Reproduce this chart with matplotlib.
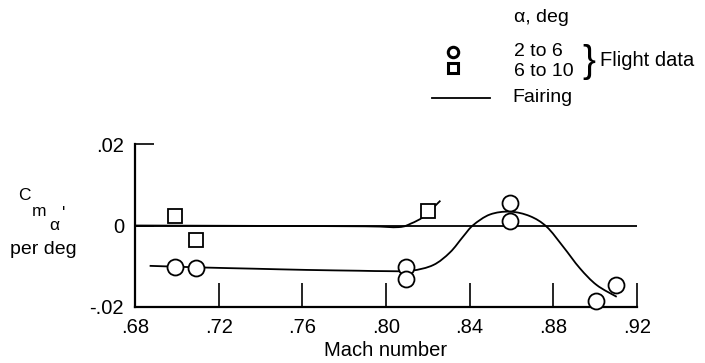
import numpy as np
import matplotlib
matplotlib.use("Agg")
import matplotlib.pyplot as plt
from matplotlib.path import Path
from matplotlib.patches import PathPatch

plt.rcParams['font.family'] = ['Liberation Sans', 'DejaVu Sans']

# Dados
mach_circ = [0.699, 0.709, 0.8095, 0.8095, 0.8593, 0.8593, 0.9002, 0.910]
cm_circ = [-0.0101, -0.0104, -0.0101, -0.0131, 0.0054, 0.0012, -0.0185, -0.0146]

mach_sq = [0.699, 0.709, 0.820]
cm_sq = [0.0023, -0.0036, 0.0036]

# Curvas de ajuste (fairing)
fair_sq_x = [0.680, 0.740, 0.790, 0.806, 0.812, 0.818, 0.826]
fair_sq_y = [0.0, -0.0001, -0.0002, -0.0004, 0.0005, 0.0022, 0.0061]

fair_circ_x = [0.687, 0.712, 0.737, 0.762, 0.787, 0.800, 0.812, 0.8226, 0.8306,
               0.8369, 0.8417, 0.8497, 0.8593, 0.8688, 0.8768, 0.8847, 0.8927,
               0.9007, 0.9103]
fair_circ_y = [-0.0099, -0.0103, -0.0106, -0.0109, -0.0111, -0.0112, -0.0111,
               -0.0097, -0.0066, -0.0027, 0.0001, 0.0027, 0.0034, 0.0023, -0.0003,
               -0.0052, -0.0105, -0.0146, -0.0175]

xticks = [0.68, 0.72, 0.76, 0.80, 0.84, 0.88, 0.92]
xtick_labels = ['.68', '.72', '.76', '.80', '.84', '.88', '.92']
yticks = [-0.02, 0.0, 0.02]
ytick_labels = ['-.02', '0', '.02']


def curva_suave(xs, ys):
    # Catmull-Rom convertido em Bezier cubica
    pts = np.column_stack([xs, ys])
    verts = [pts[0]]
    codes = [Path.MOVETO]
    n = len(pts)
    for i in range(n - 1):
        p0 = pts[i - 1] if i > 0 else pts[i]
        p1 = pts[i]
        p2 = pts[i + 1]
        p3 = pts[i + 2] if i + 2 < n else pts[i + 1]
        verts += [p1 + (p2 - p0) / 6, p2 - (p3 - p1) / 6, p2]
        codes += [Path.CURVE4] * 3
    return Path(verts, codes)


W, H = 705, 363
fig = plt.figure(figsize=(W / 100, H / 100), dpi=100)
ax = fig.add_axes([135 / W, 1 - 307 / H, (637 - 135) / W, (307 - 144) / H])

ax.axhline(0, color='black', lw=1.3, zorder=1)
for xs, ys in [(fair_sq_x, fair_sq_y), (fair_circ_x, fair_circ_y)]:
    ax.add_patch(PathPatch(curva_suave(xs, ys), fc='none', ec='black', lw=1.3, zorder=2))
ax.plot(mach_circ, cm_circ, 'o', ms=11.5, mfc='white', mec='black', mew=1.3,
        ls='none', zorder=3, clip_on=False)
ax.plot(mach_sq, cm_sq, 's', ms=9.5, mfc='white', mec='black', mew=1.3,
        ls='none', zorder=3, clip_on=False)

ax.set_xlim(0.68, 0.92)
ax.set_ylim(-0.02, 0.02)
ax.spines['top'].set_visible(False)
ax.spines['right'].set_visible(False)
ax.spines['left'].set_linewidth(1.6)
ax.spines['bottom'].set_linewidth(1.6)
ax.set_xticks(xticks)
ax.set_xticklabels(xtick_labels)
ax.set_yticks(yticks)
ax.set_yticklabels(ytick_labels)
ax.tick_params(axis='x', direction='in', length=17, width=1.2, pad=8, labelsize=14.5)
ax.tick_params(axis='y', direction='in', length=14, width=1.2, pad=8, labelsize=14.5)
ax.set_xlabel('Mach number', fontsize=14.5, labelpad=3)

# Rotulo do eixo y
fig.text(24 / W, 1 - 196 / H, 'C', fontsize=12.5, ha='center', va='center')
fig.text(39 / W, 1 - 211 / H, 'm', fontsize=12.5, ha='center', va='center')
fig.text(54 / W, 1 - 225 / H, 'α', fontsize=12.5, ha='center', va='center')
fig.text(64 / W, 1 - 213 / H, "'", fontsize=12.5, ha='center', va='center')
fig.text(43 / W, 1 - 249 / H, 'per deg', fontsize=14, ha='center', va='center')

# Legenda manual
ov = fig.add_axes([0, 0, 1, 1], facecolor='none')
ov.set_xlim(0, W)
ov.set_ylim(H, 0)
ov.axis('off')
ov.plot([453], [52], 'o', ms=7.5, mfc='white', mec='black', mew=2.2)
ov.plot([453], [68], 's', ms=6.5, mfc='white', mec='black', mew=2.2)
ov.plot([432, 490], [98, 98], color='black', lw=1.3)
ov.text(514, 17, 'α, deg', fontsize=14, va='center')
ov.text(514, 52, '2 to 6', fontsize=14, va='center')
ov.text(514, 71, '6 to 10', fontsize=14, va='center')
ov.text(589, 62, '}', fontsize=28, va='center', ha='center')
ov.text(600, 61, 'Flight data', fontsize=14.5, va='center')
ov.text(512, 98, 'Fairing', fontsize=14, va='center')

fig.savefig('out.png', dpi=100)
